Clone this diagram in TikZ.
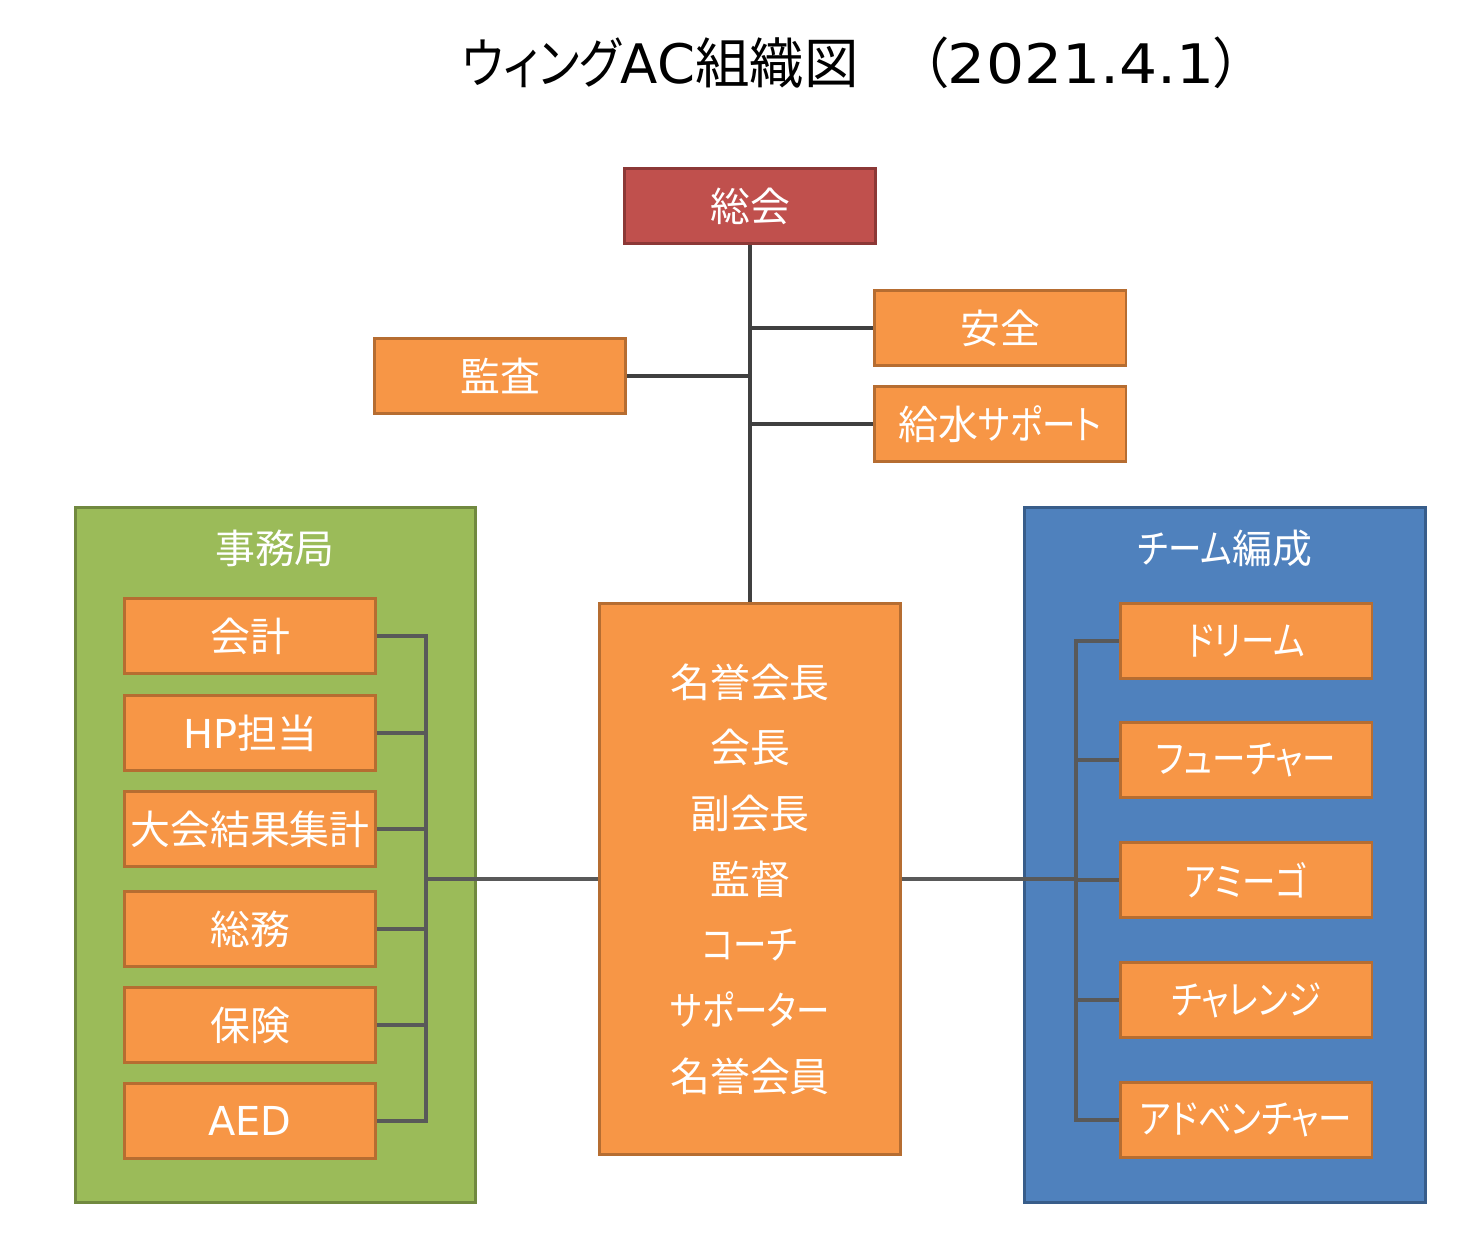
\documentclass[tikz,border=0pt]{standalone}
\usepackage{fontspec}
\setmainfont[RawFeature=+palt]{Noto Sans CJK JP}
\newfontfamily\kana[RawFeature=+palt, FakeStretch=0.84]{Noto Sans CJK JP}
\newfontfamily\latin{DejaVu Sans}
\newfontfamily\titlelatin[FakeStretch=1.1]{DejaVu Sans}
\definecolor{redfill}{HTML}{C0504D}
\definecolor{reddraw}{HTML}{8C3836}
\definecolor{orfill}{HTML}{F79646}
\definecolor{ordraw}{HTML}{B66D31}
\definecolor{grfill}{HTML}{9BBB59}
\definecolor{grdraw}{HTML}{71893F}
\definecolor{blfill}{HTML}{4F81BD}
\definecolor{bldraw}{HTML}{385D8A}
\definecolor{trunk}{HTML}{404040}
\definecolor{bus}{HTML}{595959}
\tikzset{
  unit/.style={draw=ordraw, fill=orfill, line width=1.7pt, text=white,
    minimum width=5.04cm, minimum height=1.5cm, inner sep=0pt,
    font=\fontsize{22.7}{27}\selectfont},
  group/.style={line width=1.7pt, minimum width=8.02cm, minimum height=13.92cm, inner sep=0pt},
  grouptitle/.style={text=white, font=\fontsize{22.7}{27}\selectfont},
  mainline/.style={draw=trunk, line width=2.3pt},
  subline/.style={draw=bus, line width=2pt}
}
\begin{document}
\begin{tikzpicture}[x=0.02cm, y=-0.02cm]
\useasboundingbox (0,0) rectangle (1476,1252);
% タイトル
\node[anchor=west, inner sep=0pt, font=\fontsize{31}{34}\selectfont] (title) at (462,63)
  {{\kana ウィング}{\latin AC}組織図\hspace{1.24cm}（{\titlelatin 2021.4.1}）};
% 上部
\node[unit, fill=redfill, draw=reddraw] (soukai) at (750,206) {総会};
\node[unit] (anzen) at (1000,328) {安全};
\node[unit] (kyusui) at (1000,424) {給水{\kana サポート}};
\node[unit] (kansa) at (500,376) {監査};
% 中央
\node[unit, minimum width=6.02cm, minimum height=11.04cm, align=center,
  font=\fontsize{22.7}{37.4}\selectfont] (center) at (750,879)
  {名誉会長\\会長\\副会長\\監督\\{\kana コーチ}\\{\kana サポーター}\\名誉会員};
% グループ
\node[group, draw=grdraw, fill=grfill] (jimu) at (275.5,855) {};
\node[grouptitle] (jimutitle) at (275,548) {事務局};
\node[group, draw=bldraw, fill=blfill] (team) at (1225,855) {};
\node[grouptitle] (teamtitle) at (1225,548) {{\kana チーム}編成};
\coordinate (lbus) at (426,879);
\coordinate (rbus) at (1076,879);
% 事務局の係
\foreach \name/\y/\txt in {kaikei/636/会計, hp/733/{\latin HP}担当, kekka/829/大会結果集計,
    soumu/929/総務, hoken/1025/保険, aed/1121/{\latin AED}} {
  \node[unit] (\name) at (250,\y) {\txt};
  \draw[subline] (\name.east) -| (lbus); % 係から縦線へ
}
% チーム
\foreach \name/\y/\txt in {dream/641/ドリーム, future/760/フューチャー, amigo/880/アミーゴ,
    challenge/1000/チャレンジ, adventure/1120/アドベンチャー} {
  \node[unit, font=\fontsize{22.7}{27}\kana] (\name) at (1246,\y) {\txt};
  \draw[subline] (rbus) |- (\name.west); % 縦線からチームへ
}
% 線
\draw[mainline] (soukai.south) -- (center.north);
\draw[mainline] (anzen.west) -- (anzen.west -| soukai.south);
\draw[mainline] (kyusui.west) -- (kyusui.west -| soukai.south);
\draw[mainline] (kansa.east) -- (kansa.east -| soukai.south);
\draw[subline] (lbus) -- (center.west);
\draw[subline] (center.east) -- (rbus);
\end{tikzpicture}
\end{document}
